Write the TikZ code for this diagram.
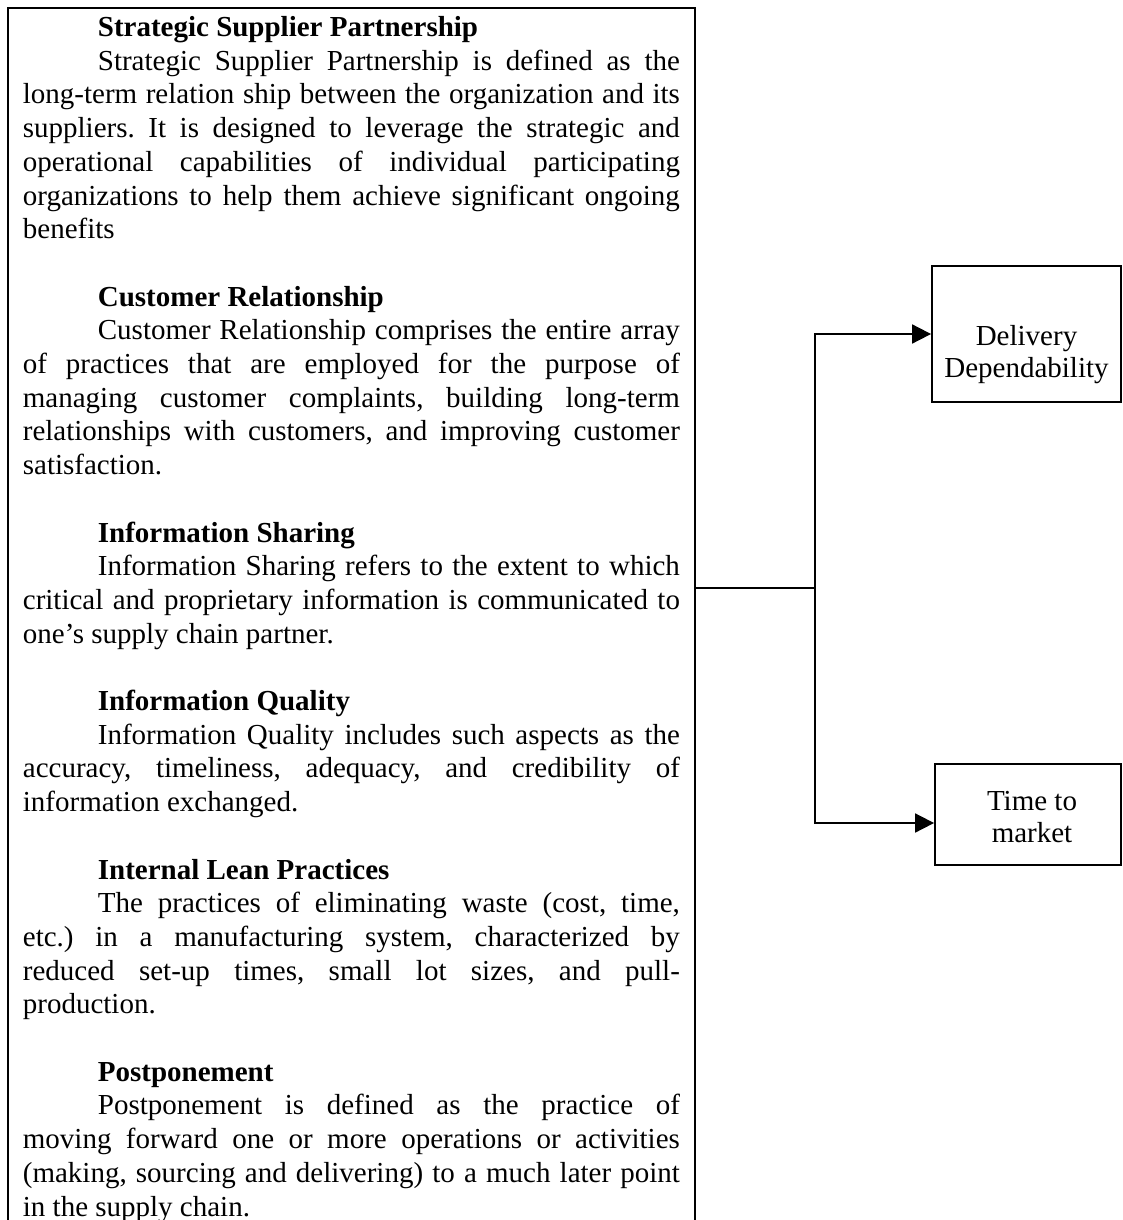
\documentclass[tikz,border=0pt]{standalone}
\usepackage{fontspec}
\setmainfont{Liberation Serif}
\usetikzlibrary{arrows.meta,calc,positioning}

\newcommand{\defhead}[1]{\textbf{#1}\par}
\newcommand{\secgap}{\par\vspace{\baselineskip}}

\begin{document}
\begin{tikzpicture}[x=1pt,y=1pt,line width=1.8pt,
		defbox/.style={draw,anchor=north west,inner xsep=15pt,inner ysep=8pt},
		outbox/.style={draw,inner sep=0pt},
		boxtext/.style={align=center,inner sep=0pt,font=\fontsize{29}{32}\selectfont},
		conn/.style={-{Triangle[length=19pt,width=19pt]}}]
		\useasboundingbox (0,0) rectangle (1123,-1220);
		\clip (0,0) rectangle (1123,-1220);
		
		% practices
		\node[defbox] (defs) at (7,-7.5) {\begin{minipage}[t]{657pt}
				\fontsize{29}{33.7}\selectfont\frenchspacing
				\parindent=75pt \parskip=0pt
				\tolerance=10000 \hyphenpenalty=10000
				\indent\defhead{Strategic Supplier Partnership}
				Strategic Supplier Partnership is defined as the\linebreak
				long-term relation ship between the organization and its\linebreak
				suppliers. It is designed to leverage the strategic and\linebreak
				operational capabilities of individual participating\linebreak
				organizations to help them achieve significant ongoing\linebreak
				benefits
				\secgap
				\defhead{Customer Relationship}
				Customer Relationship comprises the entire array\linebreak
				of practices that are employed for the purpose of\linebreak
				managing customer complaints, building long-term\linebreak
				relationships with customers, and improving customer\linebreak
				satisfaction.
				\secgap
				\defhead{Information Sharing}
				Information Sharing refers to the extent to which\linebreak
				critical and proprietary information is communicated to\linebreak
				one’s supply chain partner.
				\secgap
				\defhead{Information Quality}
				Information Quality includes such aspects as the\linebreak
				accuracy, timeliness, adequacy, and credibility of\linebreak
				information exchanged.
				\secgap
				\defhead{Internal Lean Practices}
				The practices of eliminating waste (cost, time,\linebreak
				etc.) in a manufacturing system, characterized by\linebreak
				reduced set-up times, small lot sizes, and pull-\linebreak
				production.
				\secgap
				\defhead{Postponement}
				Postponement is defined as the practice of\linebreak
				moving forward one or more operations or activities\linebreak
				(making, sourcing and delivering) to a much later point\linebreak
				in the supply chain.
			\end{minipage}};
		
		% outcomes
		\node[outbox,minimum width=189pt,minimum height=136pt] (dd) at (1026.5,-334) {};
		\node[boxtext] (ddlabel) at ([yshift=-21pt]dd.center) {Delivery\\Dependability};
		\node[outbox,minimum width=186pt,minimum height=100.7pt] (tm) at (1028,-814.6) {};
		\node[boxtext] (tmlabel) at ([xshift=4pt,yshift=-2.5pt]tm.center) {Time to\\market};
		
		\coordinate (hub) at (815,-588);
		\draw (defs.east |- hub) -- (hub);
		\draw[conn] (hub) |- (dd.west);
		\draw[conn] (hub) |- ([yshift=-8.4pt]tm.west);
	\end{tikzpicture}
\end{document}
